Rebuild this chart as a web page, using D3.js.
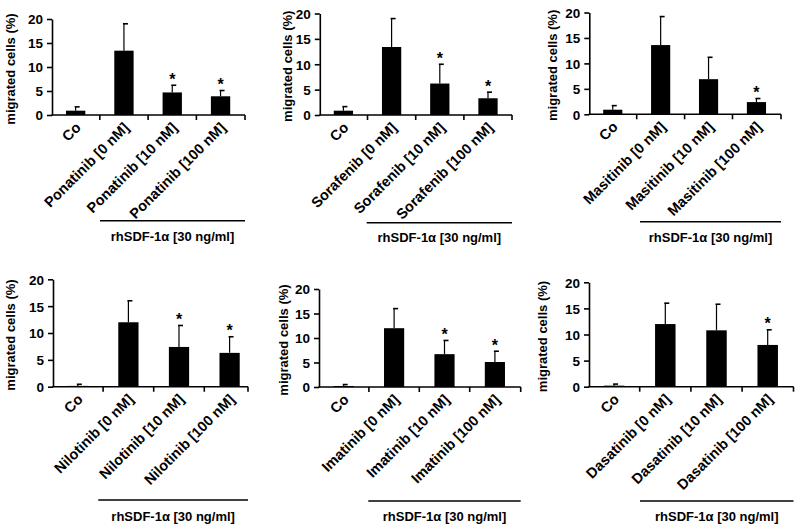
<!DOCTYPE html>
<html><head><meta charset="utf-8">
<script src="https://cdn.jsdelivr.net/npm/d3@7"></script>
<style>
html,body{margin:0;padding:0;background:#fff;}
svg{display:block;}
text{font-family:"Liberation Sans",Arial,sans-serif;font-weight:bold;fill:#000;}
</style></head>
<body>
<svg id="chart" width="800" height="530"></svg>
<script>
// ---------- data ----------
const drugs = ["Ponatinib", "Sorafenib", "Masitinib", "Nilotinib", "Imatinib", "Dasatinib"];
const doses = ["[0 nM]", "[10 nM]", "[100 nM]"];
const controlLabel = "Co";
const yTicks = [0, 5, 10, 15, 20];
const yLabel = "migrated cells (%)";
const groupLabel = "rhSDF-1\u03b1 [30 ng/ml]";

const ponatinibMean = [0.9, 13.4, 4.7, 3.9];
const ponatinibSD   = [0.8, 5.6, 1.5, 1.2];
const ponatinibStar = [false, false, true, true];

const sorafenibMean = [0.85, 13.4, 6.2, 3.3];
const sorafenibSD   = [0.8, 5.6, 3.8, 1.2];
const sorafenibStar = [false, false, true, true];

const masitinibMean = [0.9, 13.6, 6.9, 2.4];
const masitinibSD   = [0.8, 5.6, 4.3, 0.7];
const masitinibStar = [false, false, false, true];

const nilotinibMean = [0.15, 12.0, 7.4, 6.3];
const nilotinibSD   = [0.3, 4.0, 4.0, 3.0];
const nilotinibStar = [false, false, true, true];

const imatinibMean = [0.2, 12.0, 6.7, 5.1];
const imatinibSD   = [0.3, 4.0, 2.8, 2.2];
const imatinibStar = [false, false, true, true];

const dasatinibMean = [0.2, 12.0, 10.8, 8.0];
const dasatinibSD   = [0.3, 4.0, 5.0, 2.9];
const dasatinibStar = [false, false, false, true];

const means = [ponatinibMean, sorafenibMean, masitinibMean, nilotinibMean, imatinibMean, dasatinibMean];
const sds   = [ponatinibSD, sorafenibSD, masitinibSD, nilotinibSD, imatinibSD, dasatinibSD];
const stars = [ponatinibStar, sorafenibStar, masitinibStar, nilotinibStar, imatinibStar, dasatinibStar];

// ---------- layout (positions only) ----------
const layout = [
  {x0: 51.5,  bw: 48.3, y0: 115,   y20: 19,    axisEnd: 245,   lineX0: 100,   lineY: 220.7, textY: 241, yLabelX: 15},
  {x0: 319.3, bw: 48.2, y0: 115,   y20: 13.5,  axisEnd: 512,   lineX0: 366.7, lineY: 222.7, textY: 242, yLabelX: 292},
  {x0: 588.8, bw: 47.9, y0: 114.3, y20: 12.5,  axisEnd: 781,   lineX0: 640,   lineY: 221.7, textY: 242, yLabelX: 557},
  {x0: 52.5,  bw: 50.6, y0: 386.7, y20: 279.3, axisEnd: 248,   lineX0: 98.3,  lineY: 500,   textY: 521, yLabelX: 15},
  {x0: 318.5, bw: 50.4, y0: 387,   y20: 289,   axisEnd: 520.7, lineX0: 368.3, lineY: 501,   textY: 521, yLabelX: 288},
  {x0: 588.5, bw: 51.2, y0: 386.7, y20: 282.3, axisEnd: 793.5, lineX0: 640,   lineY: 501,   textY: 521, yLabelX: 547}
];

const svg = d3.select("#chart");
const FS = 13;
const XFS = 14.5;

drugs.forEach((drug, p) => {
  const L = layout[p];
  const cats = [controlLabel].concat(doses.map(d => drug + " " + d));
  const rows = cats.map((c, i) => ({cat: c, mean: means[p][i], sd: sds[p][i], star: stars[p][i]}));

  const x = d3.scaleBand().domain(cats).range([L.x0, L.x0 + 4 * L.bw]).paddingInner(0.6).paddingOuter(0.3);
  const y = d3.scaleLinear().domain([0, 20]).range([L.y0, L.y20]);
  const g = svg.append("g");

  // y axis
  const ya = g.append("g").attr("transform", `translate(${L.x0 + 0.5},0)`)
    .call(d3.axisLeft(y).tickValues(yTicks).tickSize(5).tickSizeOuter(0).tickPadding(4));
  ya.select(".domain").attr("stroke", "#000").attr("stroke-width", 1.6);
  ya.selectAll(".tick line").attr("stroke", "#000").attr("stroke-width", 1.6);
  ya.selectAll(".tick text").attr("font-size", 13.5).attr("font-family", null).attr("dy", "0.36em");

  // x axis line + boundary ticks
  g.append("line").attr("x1", L.x0).attr("x2", L.axisEnd).attr("y1", y(0)).attr("y2", y(0))
    .attr("stroke", "#000").attr("stroke-width", 1.6);
  const step = x.step();
  const bounds = [1, 2, 3].map(i => x.range()[0] + i * step).concat([L.axisEnd]);
  g.selectAll(".xt").data(bounds).enter().append("line")
    .attr("x1", d => d).attr("x2", d => d).attr("y1", y(0)).attr("y2", y(0) + 5)
    .attr("stroke", "#000").attr("stroke-width", 1.6);

  // error bars
  const cx = d => x(d.cat) + x.bandwidth() / 2;
  g.selectAll(".eb").data(rows).enter().append("line")
    .attr("x1", cx).attr("x2", cx).attr("y1", d => y(d.mean)).attr("y2", d => y(d.mean + d.sd))
    .attr("stroke", "#000").attr("stroke-width", 1.2);
  g.selectAll(".ec").data(rows).enter().append("line")
    .attr("x1", d => cx(d) - 1).attr("x2", d => cx(d) + 4).attr("y1", d => y(d.mean + d.sd)).attr("y2", d => y(d.mean + d.sd))
    .attr("stroke", "#000").attr("stroke-width", 1.6);

  // bars
  g.selectAll(".bar").data(rows).enter().append("rect")
    .attr("x", d => x(d.cat)).attr("width", x.bandwidth())
    .attr("y", d => y(d.mean)).attr("height", d => y(0) - y(d.mean))
    .attr("fill", "#000");

  // stars
  g.selectAll(".star").data(rows.filter(d => d.star)).enter().append("text")
    .attr("x", cx).attr("y", d => y(d.mean + d.sd) - 0.5)
    .attr("text-anchor", "middle").attr("font-size", 16).text("*");

  // x labels
  g.selectAll(".xl").data(rows).enter().append("text")
    .attr("transform", d => `translate(${cx(d) + 6},${y(0) + 13.5}) rotate(-45)`)
    .attr("text-anchor", "end").attr("font-size", XFS).text(d => d.cat);

  // y label
  g.append("text")
    .attr("transform", `translate(${L.yLabelX},${(L.y0 + L.y20) / 2 + 2}) rotate(-90)`)
    .attr("text-anchor", "middle").attr("font-size", FS).text(yLabel);

  // group line + label
  g.append("line").attr("x1", L.lineX0).attr("x2", L.axisEnd).attr("y1", L.lineY).attr("y2", L.lineY)
    .attr("stroke", "#000").attr("stroke-width", 1.4);
  g.append("text").attr("x", (L.lineX0 + L.axisEnd) / 2).attr("y", L.textY)
    .attr("text-anchor", "middle").attr("font-size", FS).text(groupLabel);
});
</script>
</body></html>
